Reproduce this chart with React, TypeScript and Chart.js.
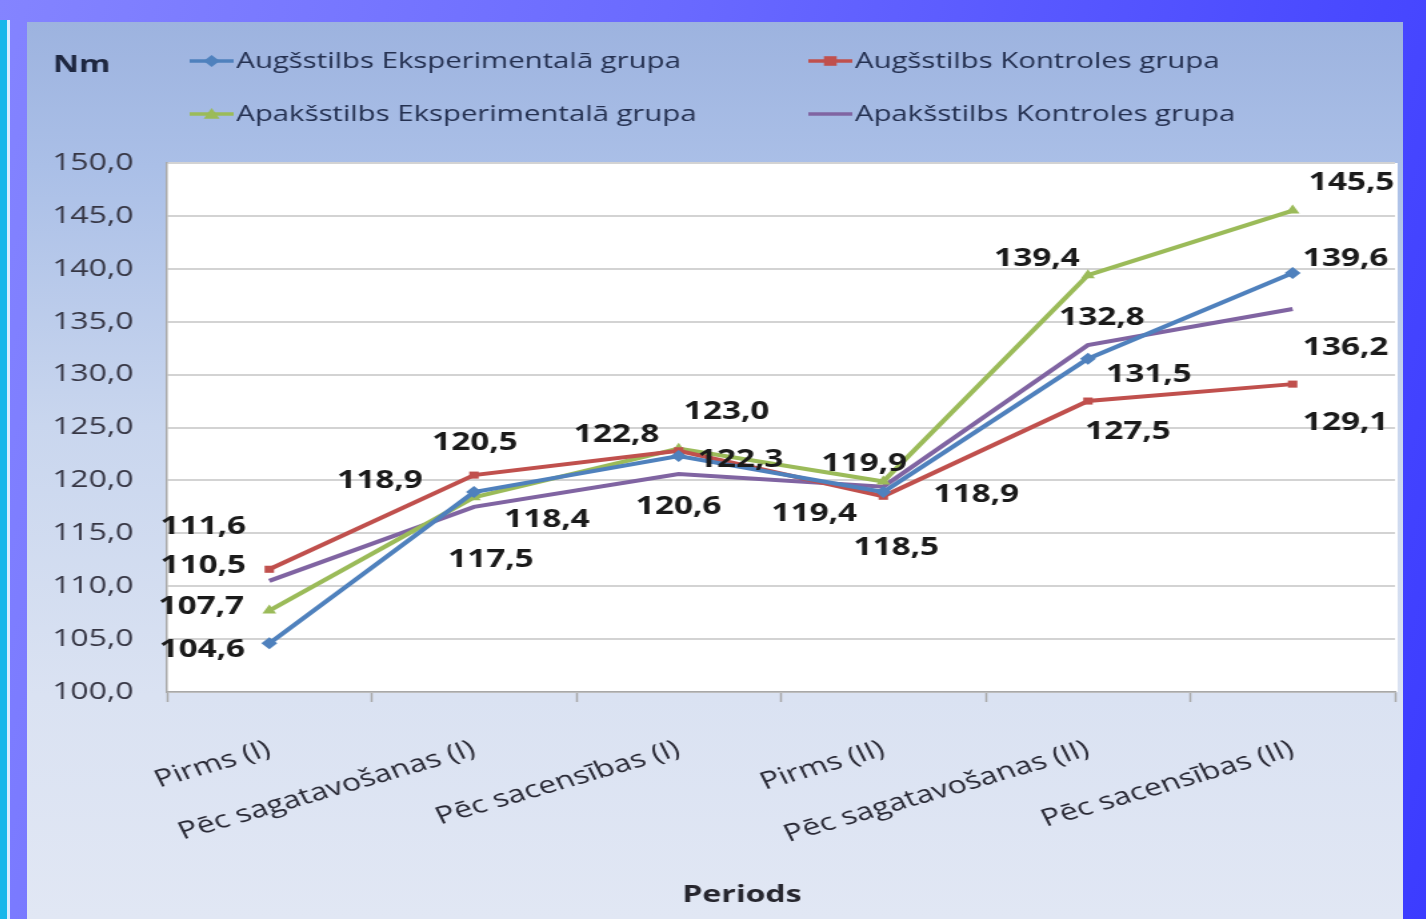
import React, { useEffect, useRef } from "react";
import { Chart, registerables } from "chart.js";

Chart.register(...registerables);

// ---- data ----
const categories = [
  "Pirms (I)",
  "Pēc sagatavošanas (I)",
  "Pēc sacensības (I)",
  "Pirms (II)",
  "Pēc sagatavošanas (II)",
  "Pēc sacensības (II)",
];
const seriesNames = [
  "Augšstilbs Eksperimentalā grupa",
  "Augšstilbs Kontroles grupa",
  "Apakšstilbs Eksperimentalā grupa",
  "Apakšstilbs Kontroles grupa",
];
const augsEksp = [104.6, 118.9, 122.3, 118.9, 131.5, 139.6];
const augsKontr = [111.6, 120.5, 122.8, 118.5, 127.5, 129.1];
const apakEksp = [107.7, 118.4, 123.0, 119.9, 139.4, 145.5];
const apakKontr = [110.5, 117.5, 120.6, 119.4, 132.8, 136.2];
const yMin = 100;
const yMax = 150;
const yStep = 5;
const yAxisTitle = "Nm";
const xAxisTitle = "Periods";

// ---- styles ----
const STRETCH = 1.3333;
const FONT = "'Open Sans', 'DejaVu Sans', sans-serif";
const colors = ["#4f81bd", "#c0504d", "#9bbb59", "#8064a2"];
const markers = ["diamond", "square", "triangle", "none"];
// label offsets (page px) relative to each point: [dx, dy]
const labelOffsets = [
  [[-67, 7], [-94, -11], [62, 4], [93, 3], [61, 16], [53, -14]],
  [[-66, -42], [1, -32], [-62, -16], [13, 52], [40, 31], [53, 39]],
  [[-68, -4], [73, 23], [48, -37], [-19, -18], [-51, -16], [59, -28]],
  [[-66, -15], [17, 53], [0, 33], [-69, 27], [14, -27], [53, 39]],
];

const fmt = (v: number) => v.toFixed(1).replace(".", ",");

function drawMarker(ctx: CanvasRenderingContext2D, kind: string, x: number, y: number, r: number, color: string) {
  if (kind === "none") return;
  ctx.save();
  ctx.fillStyle = color;
  ctx.beginPath();
  if (kind === "diamond") {
    ctx.moveTo(x, y - r);
    ctx.lineTo(x + r, y);
    ctx.lineTo(x, y + r);
    ctx.lineTo(x - r, y);
  } else if (kind === "square") {
    ctx.rect(x - r * 0.8, y - r * 0.8, r * 1.6, r * 1.6);
  } else if (kind === "triangle") {
    ctx.moveTo(x, y - r);
    ctx.lineTo(x + r, y + r * 0.8);
    ctx.lineTo(x - r, y + r * 0.8);
  }
  ctx.closePath();
  ctx.fill();
  ctx.restore();
}

const plotBgPlugin = {
  id: "plotBg",
  beforeDraw(chart: any) {
    const { ctx, chartArea } = chart;
    ctx.save();
    ctx.fillStyle = "#ffffff";
    ctx.fillRect(chartArea.left, chartArea.top, chartArea.right - chartArea.left + 2, chartArea.bottom - chartArea.top);
    ctx.restore();
  },
};

const valueLabelPlugin = {
  id: "valueLabels",
  afterDatasetsDraw(chart: any) {
    const ctx = chart.ctx;
    ctx.save();
    ctx.font = `bold 25px ${FONT}`;
    ctx.fillStyle = "#1a1a1a";
    ctx.textAlign = "center";
    ctx.textBaseline = "middle";
    chart.data.datasets.forEach((ds: any, i: number) => {
      const meta = chart.getDatasetMeta(i);
      meta.data.forEach((pt: any, j: number) => {
        const [dx, dy] = labelOffsets[i][j];
        ctx.fillText(fmt(ds.data[j]), pt.x + dx / STRETCH, pt.y + dy);
      });
    });
    ctx.restore();
  },
};

const legendPlugin = {
  id: "customLegend",
  afterDraw(chart: any) {
    const ctx = chart.ctx;
    const rows = [39, 92];
    const cols = [122, 586];
    ctx.save();
    ctx.font = `22px ${FONT}`;
    ctx.textBaseline = "middle";
    ctx.textAlign = "left";
    chart.data.datasets.forEach((ds: any, i: number) => {
      const y = rows[Math.floor(i / 2)];
      const x0 = cols[i % 2];
      const x1 = x0 + 33;
      ctx.strokeStyle = ds.borderColor;
      ctx.lineWidth = 3.5;
      ctx.beginPath();
      ctx.moveTo(x0, y);
      ctx.lineTo(x1, y);
      ctx.stroke();
      drawMarker(ctx, markers[i], (x0 + x1) / 2, y, 6, ds.borderColor);
      ctx.fillStyle = "#243050";
      ctx.fillText(ds.label, x1 + 2, y + 1);
    });
    // axis titles
    ctx.font = `bold 24px ${FONT}`;
    ctx.fillStyle = "#1e2740";
    ctx.textAlign = "center";
    ctx.fillText(yAxisTitle, 41, 43);
    ctx.fillStyle = "#26262e";
    ctx.fillText(xAxisTitle, chart.chartArea.left + (742 - 167) / STRETCH, 873);
    ctx.restore();
  },
};

const pointStyleFor = (m: string) =>
  m === "diamond" ? "rectRot" : m === "square" ? "rect" : m === "triangle" ? "triangle" : "circle";

export default function App() {
  const canvasRef = useRef<HTMLCanvasElement | null>(null);

  useEffect(() => {
    if (!canvasRef.current) return;
    const seriesData = [augsEksp, augsKontr, apakEksp, apakKontr];
    const chart = new Chart(canvasRef.current, {
      type: "line",
      data: {
        labels: categories,
        datasets: seriesData.map((d, i) => ({
          label: seriesNames[i],
          data: d,
          borderColor: colors[i],
          backgroundColor: colors[i],
          borderWidth: 4,
          tension: 0,
          pointStyle: pointStyleFor(markers[i]) as any,
          pointRadius: markers[i] === "none" ? 0 : markers[i] === "square" ? 5 : 6,
          pointBorderWidth: 0,
          pointBackgroundColor: colors[i],
        })),
      },
      options: {
        responsive: false,
        animation: false,
        events: [],
        layout: { padding: { top: 141, right: 2, left: 0, bottom: 0 } },
        plugins: {
          legend: { display: false },
          tooltip: { enabled: false },
          title: { display: false },
        },
        scales: {
          x: {
            type: "category",
            offset: true,
            afterFit: (s: any) => {
              s.height = 227;
            },
            grid: {
              display: true,
              offset: true,
              drawOnChartArea: false,
              drawTicks: true,
              tickLength: 10,
              tickColor: "#a8a8a8",
              tickWidth: 1.5,
            },
            border: { display: true, color: "#a8a8a8", width: 1.5 },
            ticks: {
              autoSkip: false,
              minRotation: 21,
              maxRotation: 21,
              padding: 33,
              color: "#2a2a36",
              font: { family: FONT, size: 24 },
            },
          },
          y: {
            min: yMin,
            max: yMax,
            afterFit: (s: any) => {
              s.width = 105;
            },
            grid: {
              color: "#d3d3d3",
              lineWidth: 2,
              drawTicks: false,
            },
            border: { display: true, color: "#a8a8a8", width: 1.5 },
            ticks: {
              stepSize: yStep,
              padding: 25,
              color: "#363644",
              font: { family: FONT, size: 24 },
              callback: (v: any) => fmt(Number(v)),
            },
          },
        },
      },
      plugins: [plotBgPlugin, valueLabelPlugin, legendPlugin],
    });
    return () => chart.destroy();
  }, []);

  return (
    <div
      style={{
        position: "absolute",
        left: 0,
        top: 0,
        width: 1426,
        height: 919,
        overflow: "hidden",
        background: "linear-gradient(105deg, #8484ff 0%, #6a6aff 40%, #4a4aff 80%, #3c3cff 100%)",
      }}
    >
      <div style={{ position: "absolute", left: 0, top: 20, width: 7, height: 899, background: "#17b7ea" }} />
      <div style={{ position: "absolute", left: 7, top: 20, width: 3, height: 899, background: "#d9eeff" }} />
      <div
        style={{
          position: "absolute",
          left: 27,
          top: 22,
          width: 1376,
          height: 897,
          background: "linear-gradient(to bottom, #9db3df 0%, #aabfe7 16%, #c9d6ee 45%, #dae2f2 75%, #e1e7f4 100%)",
        }}
      >
        <div style={{ width: 1032, height: 897, transform: `scaleX(${STRETCH})`, transformOrigin: "0 0" }}>
          <canvas ref={canvasRef} width={1032} height={897} style={{ display: "block" }} />
        </div>
      </div>
    </div>
  );
}
